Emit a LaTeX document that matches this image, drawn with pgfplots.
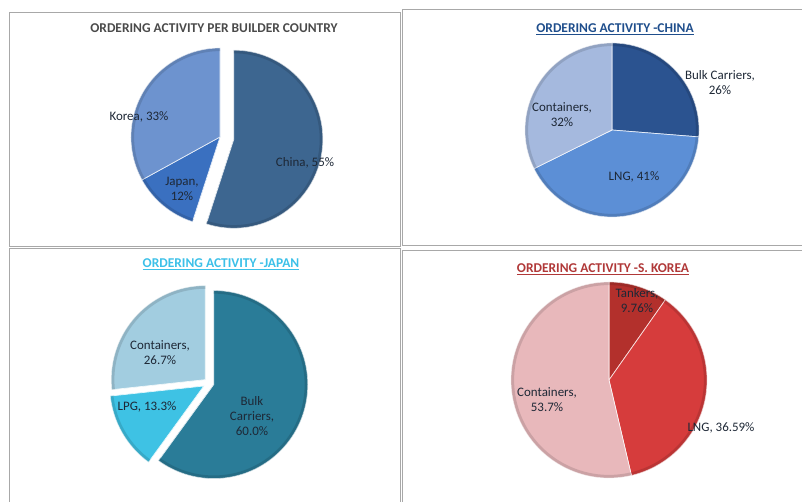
\documentclass[border=0pt]{standalone}
\usepackage{pgfplots}
\pgfplotsset{compat=1.18}
\usepackage{pgfplotstable}
\usepackage{fontspec}
\setmainfont{Carlito}

% slice colours
\definecolor{cChina}{HTML}{3D6690}
\definecolor{cJapan}{HTML}{3A70C0}
\definecolor{cKorea}{HTML}{6D93CF}
\definecolor{chBulk}{HTML}{2B5390}
\definecolor{chLNG}{HTML}{5C8FD6}
\definecolor{chCont}{HTML}{A5B9DE}
\definecolor{jpBulk}{HTML}{2A7C98}
\definecolor{jpLPG}{HTML}{3EC2E4}
\definecolor{jpCont}{HTML}{A2CDE0}
\definecolor{krTank}{HTML}{B3302C}
\definecolor{krLNG}{HTML}{D63C3C}
\definecolor{krCont}{HTML}{E8B8BB}
% titles / text
\definecolor{tGray}{HTML}{4A4A4A}
\definecolor{tBlue}{HTML}{1F4E8C}
\definecolor{tCyan}{HTML}{3CC0E8}
\definecolor{tRed}{HTML}{B03838}
\definecolor{lbl}{HTML}{1E2836}
\definecolor{frame}{HTML}{A8A8A8}

% one table per pie, slices clockwise from 12 o'clock
\pgfplotstableread[col sep=comma]{
name,value,color,explode
China,55,cChina,14
Japan,12,cJapan,0
Korea,33,cKorea,0
}\builderT
\pgfplotstableread[col sep=comma]{
name,value,color,explode
Bulk Carriers,26,chBulk,0
LNG,41,chLNG,0
Containers,32,chCont,0
}\chinaT
\pgfplotstableread[col sep=comma]{
name,value,color,explode
Bulk Carriers,60.0,jpBulk,5
LPG,13.3,jpLPG,6
Containers,26.7,jpCont,5
}\japanT
\pgfplotstableread[col sep=comma]{
name,value,color,explode
Tankers,9.76,krTank,0
LNG,36.59,krLNG,0
Containers,53.7,krCont,0
}\koreaT

% #1 table, #2 cx, #3 cy (screen px, y down), #4 radius
\newcommand\drawpie[4]{%
  \pgfplotstablegetrowsof{#1}%
  \pgfmathtruncatemacro\nlast{\pgfplotsretval-1}%
  \pgfmathsetmacro\tot{0}%
  \pgfplotsforeachungrouped \k in {0,...,\nlast}{%
    \pgfplotstablegetelem{\k}{value}\of{#1}%
    \pgfmathsetmacro\tot{\tot+\pgfplotsretval}}%
  \pgfmathsetmacro\acc{0}%
  \pgfplotsforeachungrouped \k in {0,...,\nlast}{%
    \pgfplotstablegetelem{\k}{value}\of{#1}\let\sval\pgfplotsretval
    \pgfplotstablegetelem{\k}{color}\of{#1}\let\scol\pgfplotsretval
    \pgfplotstablegetelem{\k}{explode}\of{#1}\let\sexp\pgfplotsretval
    \pgfmathsetmacro\ta{90-360*(\acc/\tot)}%
    \pgfmathsetmacro\acc{\acc+\sval}%
    \pgfmathsetmacro\tb{90-360*(\acc/\tot)}%
    \pgfmathsetmacro\tm{(\ta+\tb)/2}%
    \pgfmathsetmacro\ex{#2+\sexp*cos(\tm)}%
    \pgfmathsetmacro\ey{#3-\sexp*sin(\tm)}%
    \pgfmathsetmacro\rr{#4-1.6}%
    \edef\temp{%
      \noexpand\fill[fill=\scol, draw=white!85!\scol, line width=0.7pt]
        (axis cs:\ex,\ey) -- ++(\ta:#4bp)
        arc[start angle=\ta, end angle=\tb, radius=#4bp] -- cycle;
      \noexpand\draw[\scol!65!black, line width=3bp, opacity=0.35]
        (axis cs:\ex,\ey) ++(\ta:\rr bp)
        arc[start angle=\ta, end angle=\tb, radius=\rr bp];}%
    \temp
  }%
}

\begin{document}
\begin{tikzpicture}[
  lab/.style={font=\fontsize{13}{15}\selectfont, text=lbl, align=center, inner sep=0pt},
  ttl/.style={font=\fontsize{13.5}{15}\selectfont\bfseries, inner sep=0pt},
]
\begin{axis}[
  width=803bp, height=502bp, scale only axis,
  xmin=0, xmax=803, ymin=0, ymax=502, y dir=reverse,
  hide axis, clip=true,
]
% panel frames
\draw[frame, line width=0.9pt] (axis cs:9,246) -- (axis cs:9,12) -- (axis cs:400,12) -- (axis cs:400,246) -- cycle;
\draw[frame, line width=0.9pt] (axis cs:802,9) -- (axis cs:402,9) -- (axis cs:402,245) -- (axis cs:802,245);
\draw[frame, line width=0.9pt] (axis cs:9,502) -- (axis cs:9,248) -- (axis cs:400,248) -- (axis cs:400,502);
\draw[frame, line width=0.9pt] (axis cs:402,502) -- (axis cs:402,250) -- (axis cs:802,250);

\drawpie{\builderT}{220}{137}{89}
\drawpie{\chinaT}{612}{130}{87}
\drawpie{\japanT}{209}{383}{94}
\drawpie{\koreaT}{609}{380}{98}

% titles
\node[ttl, text=tGray] at (axis cs:214,28) {ORDERING ACTIVITY PER BUILDER COUNTRY};
\node[ttl, text=tBlue] at (axis cs:615,29) {\underline{ORDERING ACTIVITY -CHINA}};
\node[ttl, text=tCyan] at (axis cs:221,264) {\underline{ORDERING ACTIVITY -JAPAN}};
\node[ttl, text=tRed] at (axis cs:603,269) {\underline{ORDERING ACTIVITY -S. KOREA}};

% data labels
\node[lab] at (axis cs:139,117) {Korea, 33\%};
\node[lab] at (axis cs:182,189) {Japan,\\12\%};
\node[lab] at (axis cs:305,163) {China, 55\%};
\node[lab] at (axis cs:720,83) {Bulk Carriers,\\26\%};
\node[lab] at (axis cs:562,115) {Containers,\\32\%};
\node[lab] at (axis cs:634,177) {LNG, 41\%};
\node[lab] at (axis cs:160,353) {Containers,\\26.7\%};
\node[lab] at (axis cs:147,407) {LPG, 13.3\%};
\node[lab] at (axis cs:252,416) {Bulk\\Carriers,\\60.0\%};
\node[lab] at (axis cs:637,301) {Tankers,\\9.76\%};
\node[lab] at (axis cs:721,428) {LNG, 36.59\%};
\node[lab] at (axis cs:547,400) {Containers,\\53.7\%};
\end{axis}
\pgfresetboundingbox
\useasboundingbox (0,0) rectangle (803bp,502bp);
\end{tikzpicture}
\end{document}
